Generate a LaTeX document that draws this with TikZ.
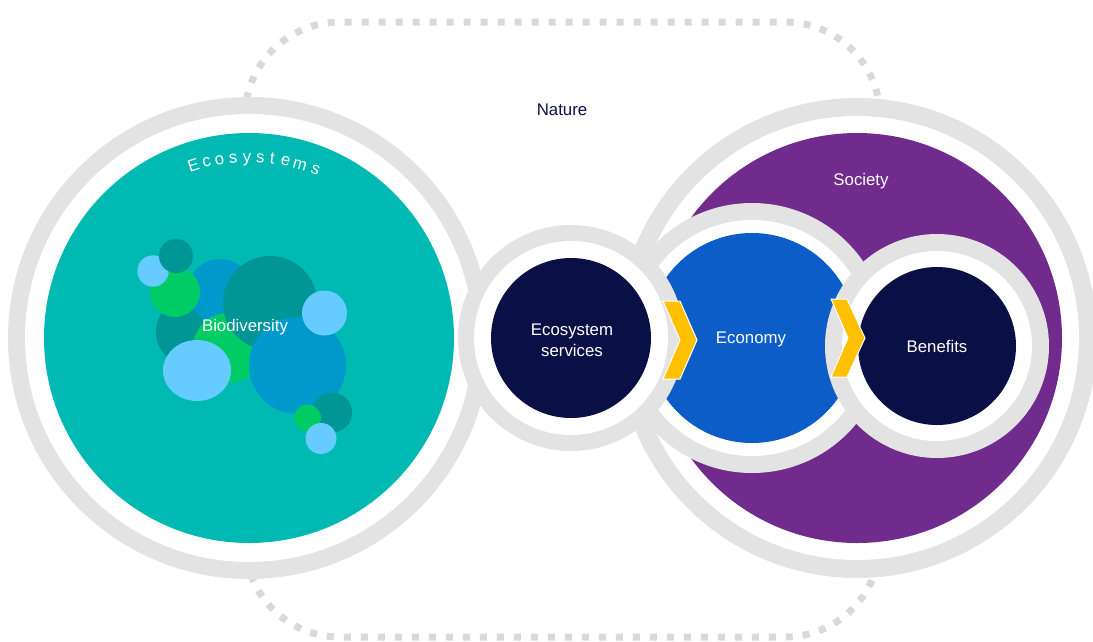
\documentclass[tikz,border=0pt]{standalone}
\usepackage{fontspec}
\setmainfont{Liberation Sans}
\usetikzlibrary{calc}
\definecolor{ringgrey}{RGB}{227,227,227}
\definecolor{dashgrey}{RGB}{217,217,217}
\definecolor{ecoteal}{RGB}{0,185,178}
\definecolor{darkteal}{RGB}{0,150,150}
\definecolor{leafgreen}{RGB}{0,204,102}
\definecolor{midblue}{RGB}{0,153,204}
\definecolor{skyblue}{RGB}{102,204,255}
\definecolor{econblue}{RGB}{12,93,199}
\definecolor{deepnavy}{RGB}{10,15,70}
\definecolor{socpurple}{RGB}{112,43,141}
\definecolor{chevyellow}{RGB}{255,192,0}
\tikzset{
  basefont/.style={font=\fontsize{16.8}{21}\selectfont},
  lbl/.style={basefont, text=white, align=center, inner sep=0pt},
  disc/.style={circle, inner sep=0pt, minimum size=#1},
  greyring/.style={fill=ringgrey},
  whitegap/.style={fill=white},
  bubble/.style={fill=#1},
  chevron/.style={fill=chevyellow, draw=white, line width=1pt, line join=miter},
  dashframe/.style={draw=dashgrey, line width=7pt, dash pattern=on 7pt off 10pt, rounded corners=95pt},
}
\begin{document}
\begin{tikzpicture}[x=1pt,y=1pt]
\useasboundingbox (0,0) rectangle (1093,-641);

% Nature frame
\draw[dashframe] (245,-22) rectangle (880,-637);
\node[basefont, text=deepnavy] (nature) at (562,-110) {Nature};

% Ecosystems
\coordinate (ecoc) at (249,-338);
\fill[greyring] (ecoc) circle (241);
\fill[whitegap] (ecoc) circle (224);
\node[disc=410pt, fill=ecoteal] (eco) at (ecoc) {};
\foreach \l/\a in {E/107.8, c/103.6, o/99.4, s/95.0, y/90.6, s/86.4, t/82.6, e/78.3, m/73.6, s/68.4}
  \node[basefont, text=white, anchor=base, inner sep=0pt, rotate=\a-90] at ($(ecoc)+(\a:176)$) {\l};

% Biodiversity cluster
\fill[bubble=darkteal] (190,-332) circle (34);
\fill[bubble=midblue] (220,-291) circle (32);
\fill[bubble=leafgreen] (228,-348) circle (35);
\fill[bubble=leafgreen] (175,-292) circle (25);
\fill[bubble=skyblue] (153,-271) circle (15.7);
\fill[bubble=darkteal] (176,-256) circle (17);
\fill[bubble=darkteal] (270,-303) circle (47);
\fill[bubble=skyblue] (197,-370.5) ellipse (34 and 30.5);
\fill[bubble=midblue] (297.5,-365.5) circle (48.5);
\fill[bubble=skyblue] (324.5,-313) circle (22.5);
\fill[bubble=darkteal] (332,-412.5) circle (20);
\fill[bubble=leafgreen] (307.5,-418) circle (13.5);
\fill[bubble=skyblue] (321,-438.5) circle (15.5);
\node[lbl] (bio) at (245,-327) {Biodiversity};

% Society
\coordinate (socc) at (857,-338);
\fill[greyring] (socc) circle (240);
\fill[whitegap] (socc) circle (222);
\node[disc=410pt, fill=socpurple] (soc) at (socc) {};
\node[lbl] (soclabel) at (861,-181) {Society};

% Economy
\coordinate (econc) at (752,-338);
\fill[greyring] (econc) circle (135);
\fill[whitegap] (econc) circle (118);
\node[disc=210pt, fill=econblue] (econ) at (econc) {};

% Benefits
\coordinate (benc) at (937,-346);
\fill[greyring] (benc) circle (112);
\fill[whitegap] (benc) circle (95);
\node[disc=158pt, fill=deepnavy, lbl] (ben) at (benc) {Benefits};

% Ecosystem services
\coordinate (servc) at (571,-338);
\fill[greyring] (servc) circle (113);
\fill[whitegap] (servc) circle (97);
\node[disc=160pt, fill=deepnavy] (serv) at (servc) {};
\node[lbl] (servlabel) at (572,-340) {Ecosystem\\services};

\node[lbl] (econlabel) at (751,-339) {Economy};

% Flow chevrons
\draw[chevron] (663,-301) -- (680,-301) -- (697,-340) -- (680,-379) -- (663,-379) -- (680,-340) -- cycle;
\draw[chevron] (831,-299) -- (847,-299) -- (865,-338) -- (847,-377) -- (831,-377) -- (848,-338) -- cycle;
\end{tikzpicture}
\end{document}
